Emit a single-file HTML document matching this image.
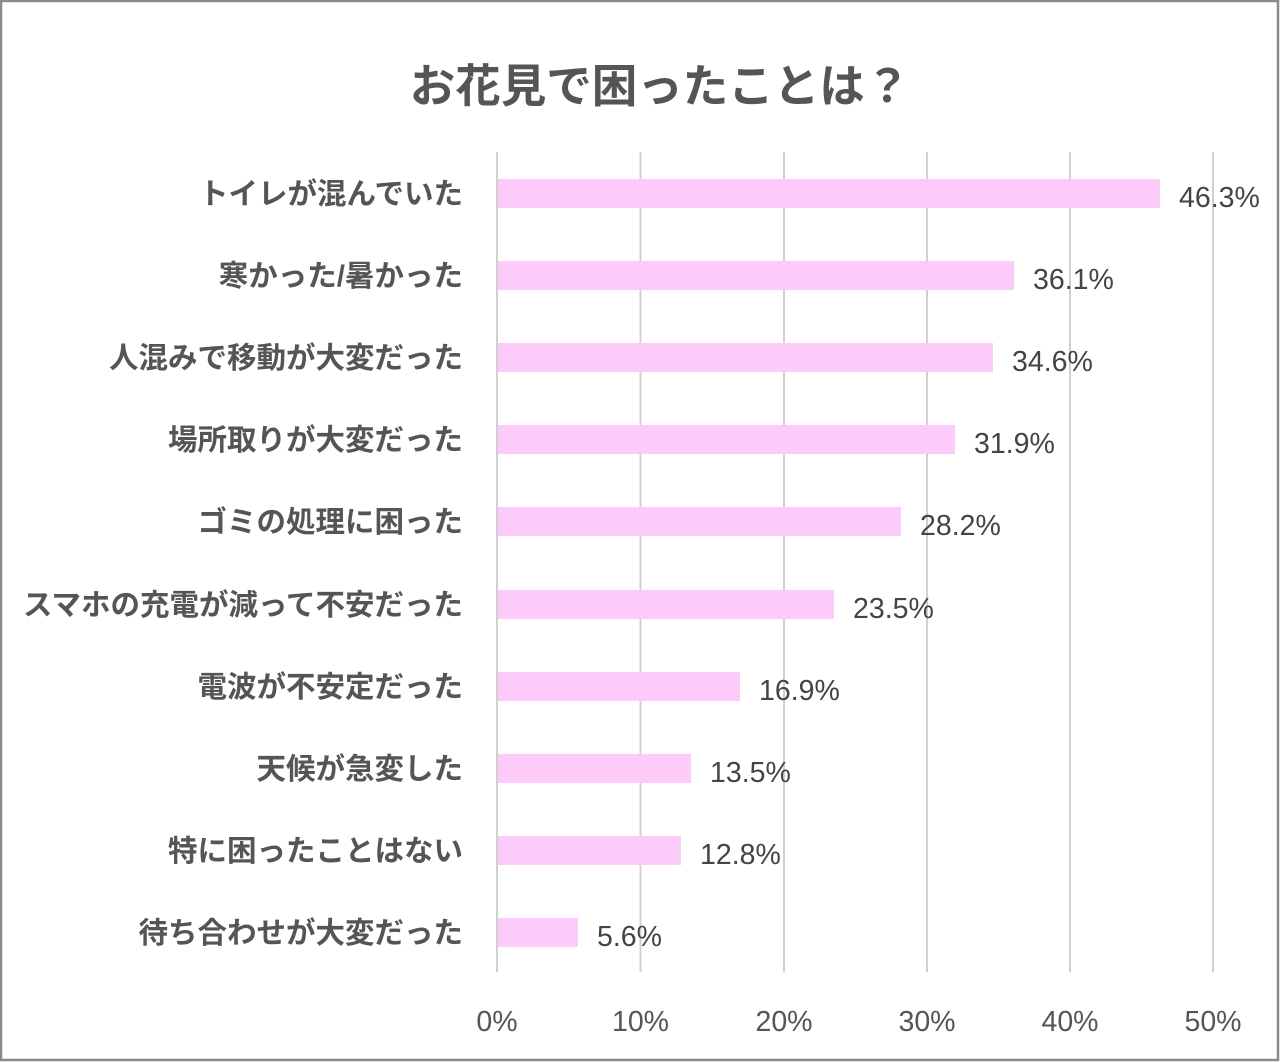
<!DOCTYPE html>
<html><head><meta charset="utf-8"><style>
html,body{margin:0;padding:0;background:#fff}
svg{display:block}
</style></head><body>
<svg width="1280" height="1062" xmlns="http://www.w3.org/2000/svg" font-family="'Liberation Sans','Noto Sans CJK JP',sans-serif">
<rect x="1" y="1" width="1277" height="1059" fill="#fff" stroke="#8a8a8a" stroke-width="2.5"/>
<text x="660" y="102" text-anchor="middle" font-size="45.5" font-weight="bold" fill="#555">お花見で困ったことは？</text>
<g stroke="#d0d0d0" stroke-width="2">
<line x1="497" y1="152" x2="497" y2="972"/>
<line x1="640.5" y1="152" x2="640.5" y2="972"/>
<line x1="784" y1="152" x2="784" y2="972"/>
<line x1="927" y1="152" x2="927" y2="972"/>
<line x1="1070" y1="152" x2="1070" y2="972"/>
<line x1="1213" y1="152" x2="1213" y2="972"/>
</g>
<g font-size="28.5" fill="#555" text-anchor="middle">
<text x="497" y="1031">0%</text><text x="640.5" y="1031">10%</text><text x="784" y="1031">20%</text><text x="927" y="1031">30%</text><text x="1070" y="1031">40%</text><text x="1213" y="1031">50%</text>
</g>
<g fill="#fccbfa">
<rect x="498" y="179" width="662" height="29"/>
<rect x="498" y="261" width="516" height="29"/>
<rect x="498" y="343" width="495" height="29"/>
<rect x="498" y="425" width="457" height="29"/>
<rect x="498" y="507" width="403" height="29"/>
<rect x="498" y="590" width="336" height="29"/>
<rect x="498" y="672" width="242" height="29"/>
<rect x="498" y="754" width="193" height="29"/>
<rect x="498" y="836" width="183" height="29"/>
<rect x="498" y="918" width="80" height="29"/>
</g>
<g font-size="29.5" font-weight="bold" fill="#555" text-anchor="end">
<text x="463" y="204">トイレが混んでいた</text>
<text x="463" y="286">寒かった/暑かった</text>
<text x="463" y="368">人混みで移動が大変だった</text>
<text x="463" y="450">場所取りが大変だった</text>
<text x="463" y="532">ゴミの処理に困った</text>
<text x="463" y="615">スマホの充電が減って不安だった</text>
<text x="463" y="697">電波が不安定だった</text>
<text x="463" y="779">天候が急変した</text>
<text x="463" y="861">特に困ったことはない</text>
<text x="463" y="943">待ち合わせが大変だった</text>
</g>
<g font-size="28.5" fill="#444">
<text x="1179" y="207">46.3%</text>
<text x="1033" y="289">36.1%</text>
<text x="1012" y="371">34.6%</text>
<text x="974" y="453">31.9%</text>
<text x="920" y="535">28.2%</text>
<text x="853" y="618">23.5%</text>
<text x="759" y="700">16.9%</text>
<text x="710" y="782">13.5%</text>
<text x="700" y="864">12.8%</text>
<text x="597" y="946">5.6%</text>
</g>
</svg>
</body></html>
